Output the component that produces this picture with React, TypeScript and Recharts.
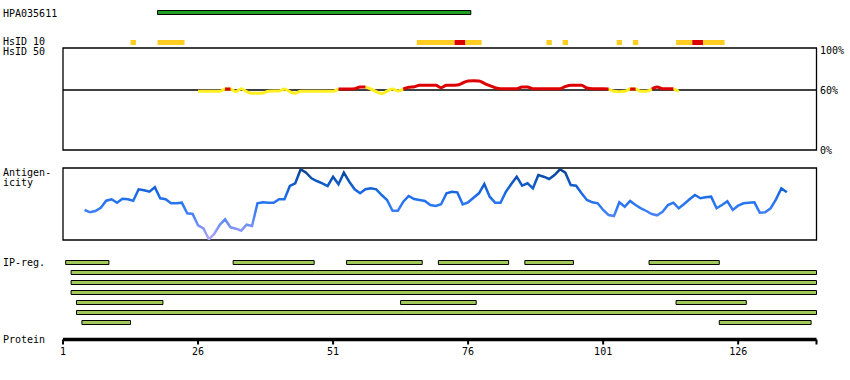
import React from "react";
import {
  ComposedChart,
  LineChart,
  Line,
  XAxis,
  YAxis,
  ReferenceArea,
  ReferenceLine,
} from "recharts";

// protein length and axis
const LEN = 140;
const PROTEIN_TICKS = [1, 26, 51, 76, 101, 126, LEN + 0.5];

// antigen fragment, residues
const ANTIGEN: [number, number] = [19, 76];

// HsID 10 hits: [from, to, high]
const HSID10: [number, number, boolean][] = [
  [14, 14, false],
  [19, 23, false],
  [67, 73, false],
  [74, 75, true],
  [76, 78, false],
  [91, 91, false],
  [94, 94, false],
  [104, 104, false],
  [107, 107, false],
  [115, 117, false],
  [118, 119, true],
  [120, 123, false],
];

// HsID 50 similarity (%), one value per residue from HSID50_START
const HSID50_START = 26;
const HSID50 = [
  58.7, 58.7, 58.7, 58.7, 58.7, 61, 61, 58.3, 61.3, 58.3,
  56.7, 56.7, 57, 58.7, 59, 59, 61, 58.3, 56.7, 58.7,
  58.7, 58.7, 58.7, 58.7, 58.7, 58.7, 61, 61, 61, 61.3,
  63, 63, 61, 58.3, 56.3, 59, 61, 59, 61, 62.7,
  63.3, 64.7, 64.7, 64.7, 64.7, 62.3, 64.7, 64.7, 65, 67,
  69, 69.3, 69, 66.7, 64.3, 62.3, 61.3, 61.3, 61.3, 61.3,
  63, 63, 61.3, 61.3, 61.3, 61.3, 61.3, 61.3, 63.5, 64.7,
  64.7, 64.7, 62, 61.3, 61.3, 61.3, 61, 58.7, 58.3, 58.7,
  61, 61, 58.7, 58.7, 61, 63, 61.3, 61.3, 61.3, 58.7,
];
const HSID50_HIGH: [number, number][] = [
  [31, 32],
  [52, 57],
  [64, 102],
  [106, 107],
  [110, 114],
];

// antigenicity score, one value per residue from ANTIGENICITY_START
const ANTIGENICITY_START = 5;
const ANTIGENICITY = [
  30, 27.7, 29, 32.3, 39.3, 40.7, 37.3, 41.3, 40.7, 39.3,
  50.7, 49.7, 48.3, 52.7, 41.7, 40.7, 36.7, 36.7, 37.3, 26.7,
  26, 14.7, 11.7, 0.7, 6, 15, 20.7, 12.7, 11.3, 9.3,
  15.3, 14, 36.7, 37.7, 37.3, 37.3, 40.7, 40.7, 54, 56.7,
  70.7, 67.3, 61.7, 59, 56.7, 54, 63.3, 55.7, 67.3, 58.3,
  50.7, 46.7, 50.7, 51.7, 50.7, 45, 40, 29.3, 29.3, 38.3,
  44, 41, 40, 39, 35, 34, 35.7, 46.7, 48.3, 47.7,
  35.7, 37.7, 42.3, 46.7, 56, 43.3, 37.3, 37.3, 48.3, 56,
  63.3, 54.3, 56.7, 51.7, 65, 63.3, 61, 65, 70.7, 67.3,
  55, 54.3, 46.7, 40, 37.7, 36.7, 30, 25, 24, 37.7,
  33.3, 39, 35, 31.7, 29, 26, 24.7, 28.3, 35, 37.3,
  31.7, 36, 40.7, 45, 41.7, 42.7, 43.3, 31.7, 35, 38.7,
  30, 34.3, 36.7, 37.3, 37.7, 27.3, 27.7, 31.7, 40.7, 51.7,
  47.7,
];

// IP-reg. rows, each a list of [from, to]
const IP_ROWS: [number, number][][] = [
  [[2, 9], [33, 47], [54, 67], [71, 83], [87, 95], [110, 122]],
  [[3, 140]],
  [[3, 140]],
  [[3, 140]],
  [[4, 19], [64, 77], [115, 127]],
  [[4, 140]],
  [[5, 13], [123, 139]],
];

const X_DOMAIN: [number, number] = [1, LEN + 0.5];
const FONT = "'DejaVu Sans Mono', monospace";
const W = 850;
const MARGIN = { top: 0, right: 33.5, bottom: 0, left: 63 };

const isHigh = (pos: number) =>
  HSID50_HIGH.some(([a, b]) => pos >= a && pos <= b);

const hsid50Data = HSID50.map((v, i) => {
  const pos = HSID50_START + i;
  const hi = isHigh(pos);
  const lowNeighbour = !isHigh(pos - 1) || !isHigh(pos + 1);
  return {
    pos,
    low: !hi || lowNeighbour ? v : null,
    high: hi ? v : null,
  };
});

const antigenicityData = ANTIGENICITY.map((v, i) => ({
  pos: ANTIGENICITY_START + i,
  v,
}));

const ipBars = IP_ROWS.flatMap((row, r) =>
  row.map(([a, b]) => ({ row: r, from: a - 0.5, to: b + 0.5 }))
);

const Label = ({ x, y, children }: { x: number; y: number; children: string }) => (
  <text x={x} y={y} fontFamily={FONT} fontSize={10} fill="#000">
    {children}
  </text>
);

export default function App() {
  return (
    <div
      style={{
        position: "absolute",
        left: 0,
        top: 0,
        width: W,
        height: 380,
        background: "#fff",
      }}
    >
      <svg
        width={W}
        height={380}
        style={{ position: "absolute", left: 0, top: 0 }}
      >
        <Label x={3} y={16.5}>HPA035611</Label>
        <Label x={3} y={45.3}>HsID 10</Label>
        <Label x={3} y={55.3}>HsID 50</Label>
        <Label x={3} y={176}>Antigen-</Label>
        <Label x={3} y={186}>icity</Label>
        <Label x={3} y={266}>IP-reg.</Label>
        <Label x={3} y={342.7}>Protein</Label>
      </svg>

      {/* antigen + HsID 10 tracks */}
      <div style={{ position: "absolute", left: 0, top: 0 }}>
        <ComposedChart width={W} height={50} margin={MARGIN} data={[]}>
          <XAxis type="number" dataKey="pos" domain={X_DOMAIN} hide allowDataOverflow />
          <YAxis type="number" domain={[0, 5]} reversed hide allowDataOverflow />
          <ReferenceArea
            x1={ANTIGEN[0] - 0.5}
            x2={ANTIGEN[1] + 0.5}
            y1={1.05}
            y2={1.45}
            fill="#20a020"
            fillOpacity={1}
            stroke="#000"
            strokeWidth={1}
          />
          {HSID10.map(([a, b, hi]) => (
            <ReferenceArea
              key={`h10-${a}`}
              x1={a - 0.5}
              x2={b + 0.5}
              y1={4}
              y2={4.5}
              fill={hi ? "#dd0000" : "#ffcc22"}
              fillOpacity={1}
              stroke="none"
            />
          ))}
        </ComposedChart>
      </div>

      {/* HsID 50 */}
      <div style={{ position: "absolute", left: 0, top: 42 }}>
        <LineChart
          width={W}
          height={114}
          data={hsid50Data}
          margin={{ top: 6, right: 0, bottom: 6, left: 63 }}
        >
          <XAxis type="number" dataKey="pos" domain={X_DOMAIN} hide allowDataOverflow />
          <YAxis
            orientation="right"
            type="number"
            domain={[0, 102]}
            ticks={[0, 60, 100]}
            interval={0}
            tickFormatter={(v: number) => `${v}%`}
            width={33.5}
            axisLine={false}
            tickLine={false}
            tickSize={0}
            tickMargin={3.5}
            tick={{ fontFamily: FONT, fontSize: 10, fill: "#000" }}
          />
          <ReferenceArea
            x1={X_DOMAIN[0]}
            x2={X_DOMAIN[1]}
            y1={0}
            y2={102}
            fill="none"
            stroke="#000"
            strokeWidth={1.3}
          />
          <ReferenceLine y={60} stroke="#000" strokeWidth={1.3} />
          <Line
            type="monotone"
            dataKey="low"
            stroke="#ffee22"
            strokeWidth={3}
            dot={false}
            connectNulls={false}
            isAnimationActive={false}
          />
          <Line
            type="monotone"
            dataKey="high"
            stroke="#dd0000"
            strokeWidth={3}
            dot={false}
            connectNulls={false}
            isAnimationActive={false}
          />
        </LineChart>
      </div>

      {/* Antigenicity */}
      <div style={{ position: "absolute", left: 0, top: 166 }}>
        <LineChart
          width={W}
          height={76}
          data={antigenicityData}
          margin={{ top: 2, right: 33.5, bottom: 2, left: 63 }}
        >
          <defs>
            <linearGradient id="antGrad" x1="0" y1="0" x2="0" y2="1">
              <stop offset="0%" stopColor="#0a3f8f" />
              <stop offset="15%" stopColor="#0d55bb" />
              <stop offset="35%" stopColor="#1a6ae6" />
              <stop offset="55%" stopColor="#2f7af5" />
              <stop offset="72%" stopColor="#5a88f6" />
              <stop offset="87%" stopColor="#8a98f6" />
              <stop offset="100%" stopColor="#b0a8ff" />
            </linearGradient>
          </defs>
          <XAxis type="number" dataKey="pos" domain={X_DOMAIN} hide allowDataOverflow />
          <YAxis type="number" domain={[0, 72]} hide allowDataOverflow />
          <ReferenceArea
            x1={X_DOMAIN[0]}
            x2={X_DOMAIN[1]}
            y1={0}
            y2={72}
            fill="none"
            stroke="#000"
            strokeWidth={1.3}
          />
          <Line
            type="linear"
            dataKey="v"
            stroke="url(#antGrad)"
            strokeWidth={2.5}
            dot={false}
            isAnimationActive={false}
          />
        </LineChart>
      </div>

      {/* IP-reg. rows and protein axis */}
      <div style={{ position: "absolute", left: 0, top: 260 }}>
        <ComposedChart
          width={W}
          height={106}
          data={ipBars}
          margin={MARGIN}
        >
          <XAxis
            type="number"
            dataKey="from"
            domain={X_DOMAIN}
            allowDataOverflow
            ticks={PROTEIN_TICKS}
            interval={0}
            tickFormatter={(v: number) => (v > LEN ? "" : String(v))}
            height={26.5}
            axisLine={{ stroke: "#000", strokeWidth: 3.5 }}
            tickLine={{ stroke: "#000", strokeWidth: 2 }}
            tickSize={5}
            tickMargin={3.5}
            tick={{ fontFamily: FONT, fontSize: 10, fill: "#000" }}
          />
          <YAxis type="number" domain={[0, 7.95]} reversed hide allowDataOverflow />
          {ipBars.map((b, i) => (
            <ReferenceArea
              key={`ip-${i}`}
              x1={b.from}
              x2={b.to}
              y1={b.row + 0.05}
              y2={b.row + 0.45}
              fill="#a0c85a"
              fillOpacity={1}
              stroke="#000"
              strokeWidth={1}
            />
          ))}
        </ComposedChart>
      </div>
    </div>
  );
}
